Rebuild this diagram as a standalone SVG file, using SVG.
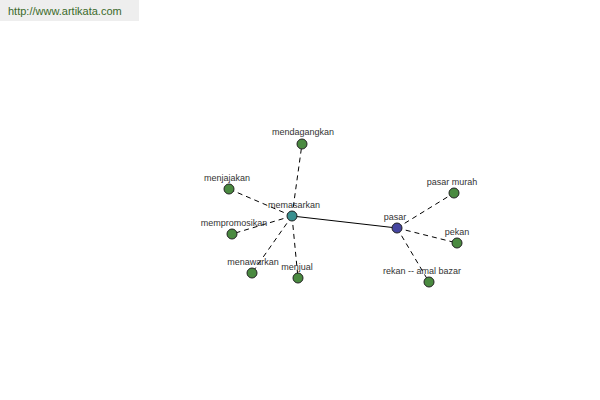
<svg xmlns="http://www.w3.org/2000/svg" width="600" height="400" viewBox="0 0 600 400">
<style>
.lbl{font-family:"Liberation Sans",Arial,sans-serif;font-size:9px;fill:#333;text-anchor:middle}
.n{stroke:#222;stroke-width:1}
.g{fill:#4a8a40}
.d{stroke:#000;stroke-width:1;stroke-dasharray:5,4;fill:none}
.s{stroke:#000;stroke-width:1;fill:none}
</style>
<rect x="0" y="0" width="600" height="400" fill="#fff"/>
<rect x="0" y="0" width="139" height="21" fill="#eeeeee"/>
<text x="8" y="15" style="font-family:'Liberation Sans',Arial,sans-serif;font-size:11px;fill:#3a6a2a">http://www.artikata.com</text>
<g id="connectors">
<line class="s" x1="292" y1="216" x2="397" y2="228"/>
<line class="d" x1="292" y1="216" x2="302" y2="144"/>
<line class="d" x1="292" y1="216" x2="229" y2="189"/>
<line class="d" x1="292" y1="216" x2="232" y2="234"/>
<line class="d" x1="292" y1="216" x2="252" y2="273"/>
<line class="d" x1="292" y1="216" x2="298" y2="278"/>
<line class="d" x1="397" y1="228" x2="454" y2="193"/>
<line class="d" x1="397" y1="228" x2="457" y2="243"/>
<line class="d" x1="397" y1="228" x2="429" y2="282"/>
</g>
<g id="memasarkan"><circle class="n" cx="292" cy="216" r="5" fill="#3a9090"/><text class="lbl" x="294" y="208">memasarkan</text></g>
<g id="pasar"><circle class="n" cx="397" cy="228" r="5" fill="#4545a0"/><text class="lbl" x="395" y="220">pasar</text></g>
<g id="mendagangkan"><circle class="n g" cx="302" cy="144" r="5"/><text class="lbl" x="303" y="135">mendagangkan</text></g>
<g id="menjajakan"><circle class="n g" cx="229" cy="189" r="5"/><text class="lbl" x="227" y="181">menjajakan</text></g>
<g id="mempromosikan"><circle class="n g" cx="232" cy="234" r="5"/><text class="lbl" x="234" y="226">mempromosikan</text></g>
<g id="menawarkan"><circle class="n g" cx="252" cy="273" r="5"/><text class="lbl" x="253" y="265">menawarkan</text></g>
<g id="menjual"><circle class="n g" cx="298" cy="278" r="5"/><text class="lbl" x="297" y="270">menjual</text></g>
<g id="pasar-murah"><circle class="n g" cx="454" cy="193" r="5"/><text class="lbl" x="452" y="185">pasar murah</text></g>
<g id="pekan"><circle class="n g" cx="457" cy="243" r="5"/><text class="lbl" x="457" y="235">pekan</text></g>
<g id="rekan-amal-bazar"><circle class="n g" cx="429" cy="282" r="5"/><text class="lbl" x="422" y="274">rekan -- amal bazar</text></g>
</svg>
